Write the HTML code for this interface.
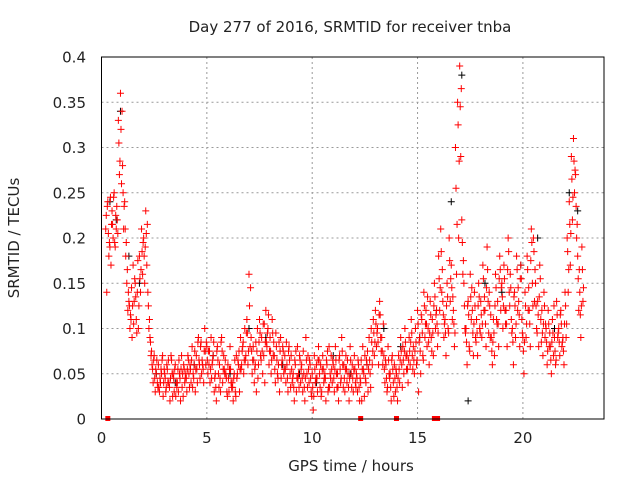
<!DOCTYPE html>
<html><head><meta charset="utf-8"><style>
body{margin:0;background:#fff}
svg{display:block;font-family:"DejaVu Sans","Liberation Sans",sans-serif}
</style></head><body>
<svg id="chart" width="640" height="480" viewBox="0 0 640 480">
<rect width="640" height="480" fill="#fff"/>
<text x="350" y="32" font-size="15" text-anchor="middle" fill="#222">Day 277 of 2016, SRMTID for receiver tnba</text>
<text transform="translate(19,238) rotate(-90)" font-size="15" text-anchor="middle" fill="#222">SRMTID / TECUs</text>
<text x="351" y="471" font-size="15" text-anchor="middle" fill="#222">GPS time / hours</text>
<g id="grid"></g>
<g id="ticks"></g>
<g id="marks"></g>
<rect x="101.5" y="57" width="502.5" height="362" fill="none" stroke="#000" stroke-width="1"/>
</svg>
<script>
const xTicks=[0,5,10,15,20];
const yTicks=[0,0.05,0.1,0.15,0.2,0.25,0.3,0.35,0.4];
const yTickLabels=["0","0.05","0.1","0.15","0.2","0.25","0.3","0.35","0.4"];
const redStart=0.2, redStep=0.1;
const redA=[.21,.24,.19,.23,.25,.21,.33,.36,
.28,.24,.15,.13,.11,.17,.15,.14,.18,.21,
.20,.23,.14,.09,.06,.07,.05,.06,.04,.07,
.05,.06,.04,.07,.05,.06,.04,.05,.07,.06,
.05,.07,.06,.08,.06,.07,.09,.08,.06,.10,
.08,.06,.09,.07,.05,.08,.06,.09,.07,.05,
.06,.08,.04,.05,.07,.06,.09,.08,.10,.11,
.16,.09,.08,.06,.10,.11,.09,.07,.12,.10,
.09,.11,.07,.08,.06,.09,.08,.07,.06,.08,
.07,.05,.06,.08,.07,.06,.05,.09,.07,.06,
.05,.07,.06,.08,.06,.07,.05,.06,.08,.07,
.06,.08,.05,.07,.09,.06,.07,.05,.08,.06,
.07,.05,.06,.04,.08,.07,.06,.09,.10,.11,
.12,.10,.13,.09,.07,.06,.08,.05,.07,.06,
.05,.07,.09,.08,.10,.07,.09,.11,.08,.10,
.12,.09,.11,.14,.12,.10,.13,.11,.15,.12,
.18,.21,.13,.11,.15,.20,.17,.12,.30,.35,
.39,.22,.15,.10,.13,.16,.12,.14,.11,.15,
.13,.17,.12,.19,.14,.09,.11,.16,.13,.18,
.15,.17,.12,.20,.16,.10,.14,.18,.13,.17,
.09,.14,.18,.12,.21,.20,.15,.13,.17,.12,
.14,.10,.12,.08,.11,.09,.13,.10,.12,.09,
.14,.20,.24,.29,.31,.27,.18,.14,.19];
const redB=[.14,.18,.17,.20,.19,.22,.27,.26,
.21,.18,.12,.10,.09,.13,.11,.10,.14,.16,
.15,.17,.10,.07,.04,.03,.04,.03,.05,.04,
.03,.04,.02,.05,.03,.04,.03,.02,.05,.04,
.03,.05,.04,.05,.03,.04,.06,.05,.04,.06,
.05,.04,.06,.03,.02,.05,.03,.04,.05,.03,
.03,.04,.02,.03,.05,.03,.06,.05,.07,.06,
.08,.05,.04,.03,.06,.07,.05,.04,.08,.06,
.05,.07,.04,.05,.03,.06,.05,.04,.03,.05,
.04,.02,.03,.05,.04,.03,.02,.05,.04,.03,
.01,.04,.03,.05,.03,.04,.02,.03,.05,.04,
.03,.05,.02,.04,.06,.03,.04,.02,.05,.03,
.04,.03,.02,.02,.05,.04,.03,.05,.06,.07,
.08,.06,.09,.06,.04,.03,.05,.02,.04,.03,
.02,.04,.06,.05,.07,.04,.06,.07,.05,.06,
.03,.05,.07,.09,.08,.06,.09,.07,.10,.08,
.12,.14,.09,.07,.10,.13,.11,.08,.16,.20,
.29,.16,.10,.06,.08,.11,.07,.09,.07,.10,
.09,.12,.08,.13,.09,.06,.07,.11,.08,.12,
.10,.12,.08,.14,.11,.06,.09,.12,.08,.11,
.05,.09,.12,.08,.15,.13,.10,.08,.11,.07,
.09,.06,.08,.05,.07,.06,.09,.07,.08,.06,
.09,.14,.17,.22,.25,.20,.12,.09,.13];
const redC=[.225,.205,.245,.215,.195,.235,.305,.32,
.25,.21,.165,.125,.145,.105,.135,.175,.155,.185,
.18,.205,.125,.085,.055,.045,.065,.035,.055,.025,
.045,.055,.035,.065,.045,.025,.055,.045,.035,.055,
.045,.065,.055,.035,.075,.055,.065,.085,.055,.075,
.065,.075,.045,.085,.035,.065,.045,.075,.055,.045,
.045,.055,.035,.065,.045,.075,.055,.085,.065,.095,
.125,.075,.065,.085,.045,.095,.075,.105,.085,.115,
.075,.095,.055,.065,.085,.045,.075,.055,.045,.065,
.055,.035,.075,.045,.065,.045,.035,.065,.055,.045,
.035,.055,.045,.065,.025,.055,.045,.075,.035,.055,
.045,.065,.035,.055,.075,.045,.055,.035,.065,.045,
.055,.045,.035,.065,.055,.045,.075,.065,.085,.095,
.105,.085,.115,.075,.055,.045,.065,.035,.055,.045,
.035,.055,.075,.065,.085,.055,.075,.095,.065,.085,
.105,.075,.095,.125,.105,.085,.115,.095,.135,.105,
.155,.185,.115,.095,.135,.175,.145,.105,.255,.325,
.345,.195,.125,.085,.115,.135,.095,.125,.095,.135,
.115,.155,.105,.165,.125,.075,.095,.145,.105,.165,
.135,.155,.105,.185,.145,.085,.125,.165,.115,.155,
.075,.125,.165,.105,.195,.185,.125,.115,.155,.095,
.125,.085,.105,.065,.095,.075,.115,.085,.105,.075,
.125,.185,.215,.265,.285,.235,.155,.115,.165];
const redD=[.235,.195,.215,.245,.225,.205,.285,.34,
.235,.195,.14,.115,.125,.155,.095,.125,.165,.195,
.19,.215,.11,.075,.065,.055,.035,.045,.065,.055,
.035,.065,.045,.025,.055,.035,.065,.055,.025,.045,
.055,.035,.065,.045,.055,.085,.045,.065,.075,.085,
.075,.055,.065,.045,.075,.035,.085,.055,.065,.025,
.055,.035,.045,.025,.065,.055,.075,.065,.095,.075,
.145,.065,.055,.075,.085,.065,.105,.085,.095,.075,
.065,.085,.095,.045,.075,.065,.055,.085,.075,.035,
.045,.065,.045,.035,.055,.075,.045,.035,.065,.025,
.025,.045,.065,.035,.055,.045,.065,.035,.045,.065,
.055,.035,.065,.045,.035,.055,.065,.045,.035,.055,
.035,.065,.045,.055,.025,.065,.055,.035,.075,.085,
.095,.115,.075,.105,.065,.035,.045,.065,.025,.055,
.045,.065,.035,.075,.055,.065,.085,.055,.075,.065,
.085,.115,.065,.105,.135,.095,.075,.125,.115,.095,
.145,.165,.105,.125,.095,.155,.135,.095,.215,.285,
.365,.175,.095,.125,.075,.145,.105,.085,.125,.095,
.105,.135,.145,.095,.115,.085,.125,.105,.155,.145,
.125,.105,.165,.125,.095,.135,.105,.145,.155,.095,
.085,.105,.145,.175,.125,.165,.095,.135,.085,.105,
.105,.075,.095,.085,.125,.065,.095,.115,.085,.105,
.105,.165,.205,.245,.275,.215,.165,.125,.145];
const blackTimes=[0.4,0.7,0.9,1.3,1.8,2.6,3.5,4.4,5.3,6.1,7.0,7.8,8.6,9.4,10.2,11.0,11.8,12.6,13.4,14.2,15.1,15.9,16.6,17.1,17.4,18.2,19.0,19.9,20.7,21.5,22.2,22.6];
const blackValues=[.24,.22,.34,.18,.15,.05,.04,.06,.07,.05,.10,.09,.06,.05,.04,.07,.05,.06,.10,.08,.09,.12,.24,.38,.02,.15,.14,.17,.20,.10,.25,.23];
const zeroTimes=[0.3,12.3,14.0,15.8,15.95];

const X=t=>101.5+t*21.07;
const Y=v=>419-v*905;
const NS="http://www.w3.org/2000/svg";
const grid=document.getElementById('grid'),ticks=document.getElementById('ticks'),marks=document.getElementById('marks');
function mk(tag,attrs,parent){const e=document.createElementNS(NS,tag);for(const k in attrs)e.setAttribute(k,attrs[k]);parent.appendChild(e);return e;}
xTicks.forEach(t=>{
  const x=X(t);
  if(t>0){const g=mk('line',{x1:x,x2:x,y1:57,y2:419,stroke:'#999','stroke-dasharray':'2,3'},grid);
  
  }
  const l=mk('text',{x:x,y:443,'font-size':15,'text-anchor':'middle',fill:'#222'},ticks);
  l.textContent=t;
  
  
});
yTicks.forEach((v,i)=>{
  const y=Y(v);
  if(i>0&&i<yTicks.length-1){const g=mk('line',{x1:101.5,x2:604,y1:y,y2:y,stroke:'#999','stroke-dasharray':'2,3'},grid);
  
  }
  const l=mk('text',{x:86,y:y+5.5,'font-size':15,'text-anchor':'end',fill:'#222'},ticks);
  l.textContent=yTickLabels[i];
  
  
});
function plus(t,v,color,name){
  const x=X(t),y=Y(v);
  const p=mk('path',{d:`M${x-3.5},${y}h7M${x},${y-3.5}v7`,stroke:color,'stroke-width':1,fill:'none'},marks);
  
  
}
blackTimes.forEach((t,i)=>plus(t,blackValues[i],'#000','black-point'));
redD.forEach((v,i)=>plus(redStart+i*redStep+0.075,v,'#f00','red-point'));
redB.forEach((v,i)=>plus(redStart+i*redStep+0.05,v,'#f00','red-point'));
redC.forEach((v,i)=>plus(redStart+i*redStep+0.025,v,'#f00','red-point'));
redA.forEach((v,i)=>plus(redStart+i*redStep,v,'#f00','red-point'));
zeroTimes.forEach(t=>{
  const r=mk('rect',{x:X(t)-2.5,y:Y(0)-3,width:5,height:5,fill:'#f00'},marks);
  
  
});
</script>
</body></html>
